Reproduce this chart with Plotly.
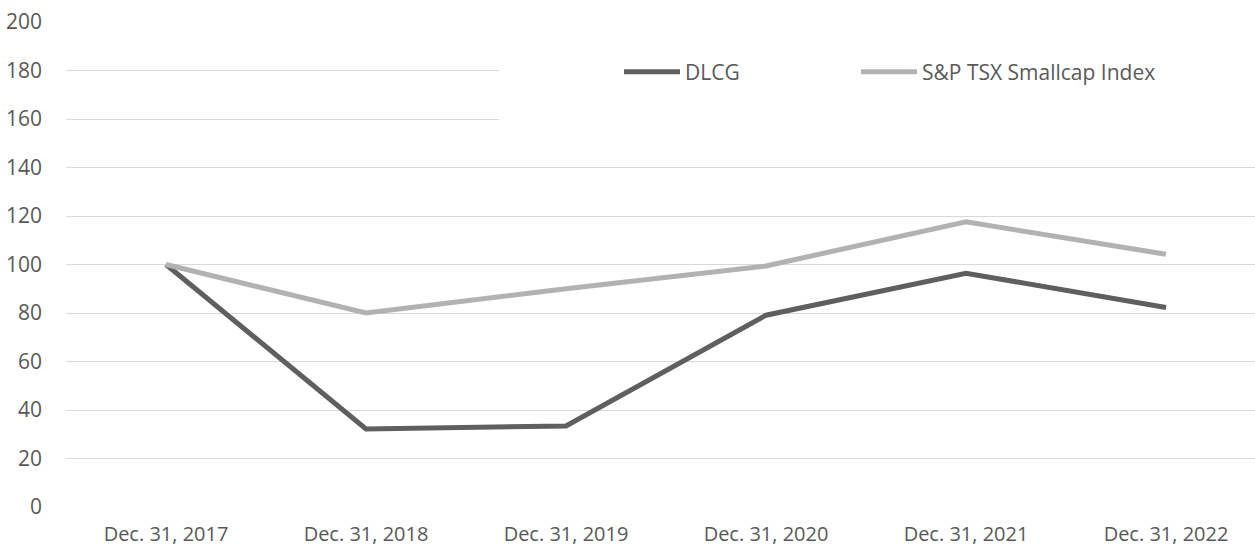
import plotly.graph_objects as go

categories = ["Dec. 31, 2017", "Dec. 31, 2018", "Dec. 31, 2019",
              "Dec. 31, 2020", "Dec. 31, 2021", "Dec. 31, 2022"]
dlcg = [100, 32.2, 33.4, 79.1, 96.4, 82.3]
tsx_smallcap = [100, 80, 90, 99.4, 117.6, 104.2]
y_ticks = [0, 20, 40, 60, 80, 100, 120, 140, 160, 180, 200]

FONT = "'Open Sans', sans-serif"
TEXT = "#595959"
FS = 21

fig = go.Figure()
fig.add_trace(go.Scatter(x=categories, y=dlcg, mode="lines", name="DLCG",
                         line=dict(color="#5f5f5f", width=5), legend="legend"))
fig.add_trace(go.Scatter(x=categories, y=tsx_smallcap, mode="lines",
                         name="S&P TSX Smallcap Index",
                         line=dict(color="#b2b2b2", width=5), legend="legend2"))

legend_common = dict(orientation="h", xref="container", yref="container",
                     xanchor="left", yanchor="middle", bgcolor="rgba(0,0,0,0)",
                     font=dict(family=FONT, size=FS, color=TEXT), itemwidth=56)

fig.update_layout(
    width=1255, height=550,
    margin=dict(l=66, r=0, t=22, b=43, autoexpand=False),
    paper_bgcolor="white", plot_bgcolor="white",
    font=dict(family=FONT, size=FS, color=TEXT),
    showlegend=True,
    legend=dict(x=619 / 1255, y=1 - 72 / 550, **legend_common),
    legend2=dict(x=856 / 1255, y=1 - 72 / 550, **legend_common),
    shapes=[dict(type="rect", xref="paper", yref="paper",
                 x0=(499 - 66) / 1189, x1=1.01, y0=1 - (140 - 22) / 485, y1=1.05,
                 fillcolor="white", line=dict(width=0), layer="above")],
    xaxis=dict(type="category", range=[-0.5, 5.445], showgrid=False,
               zeroline=False, showline=False, ticks="", ticklabelstandoff=13,
               tickfont=dict(family=FONT, size=20, color=TEXT)),
    yaxis=dict(range=[0, 200], tickvals=y_ticks, showgrid=True,
               gridcolor="#d9d9d9", gridwidth=1, zeroline=False, showline=False,
               ticks="", ticklabelstandoff=23,
               tickfont=dict(family=FONT, size=FS, color=TEXT)),
)

fig.write_html("out.html")
